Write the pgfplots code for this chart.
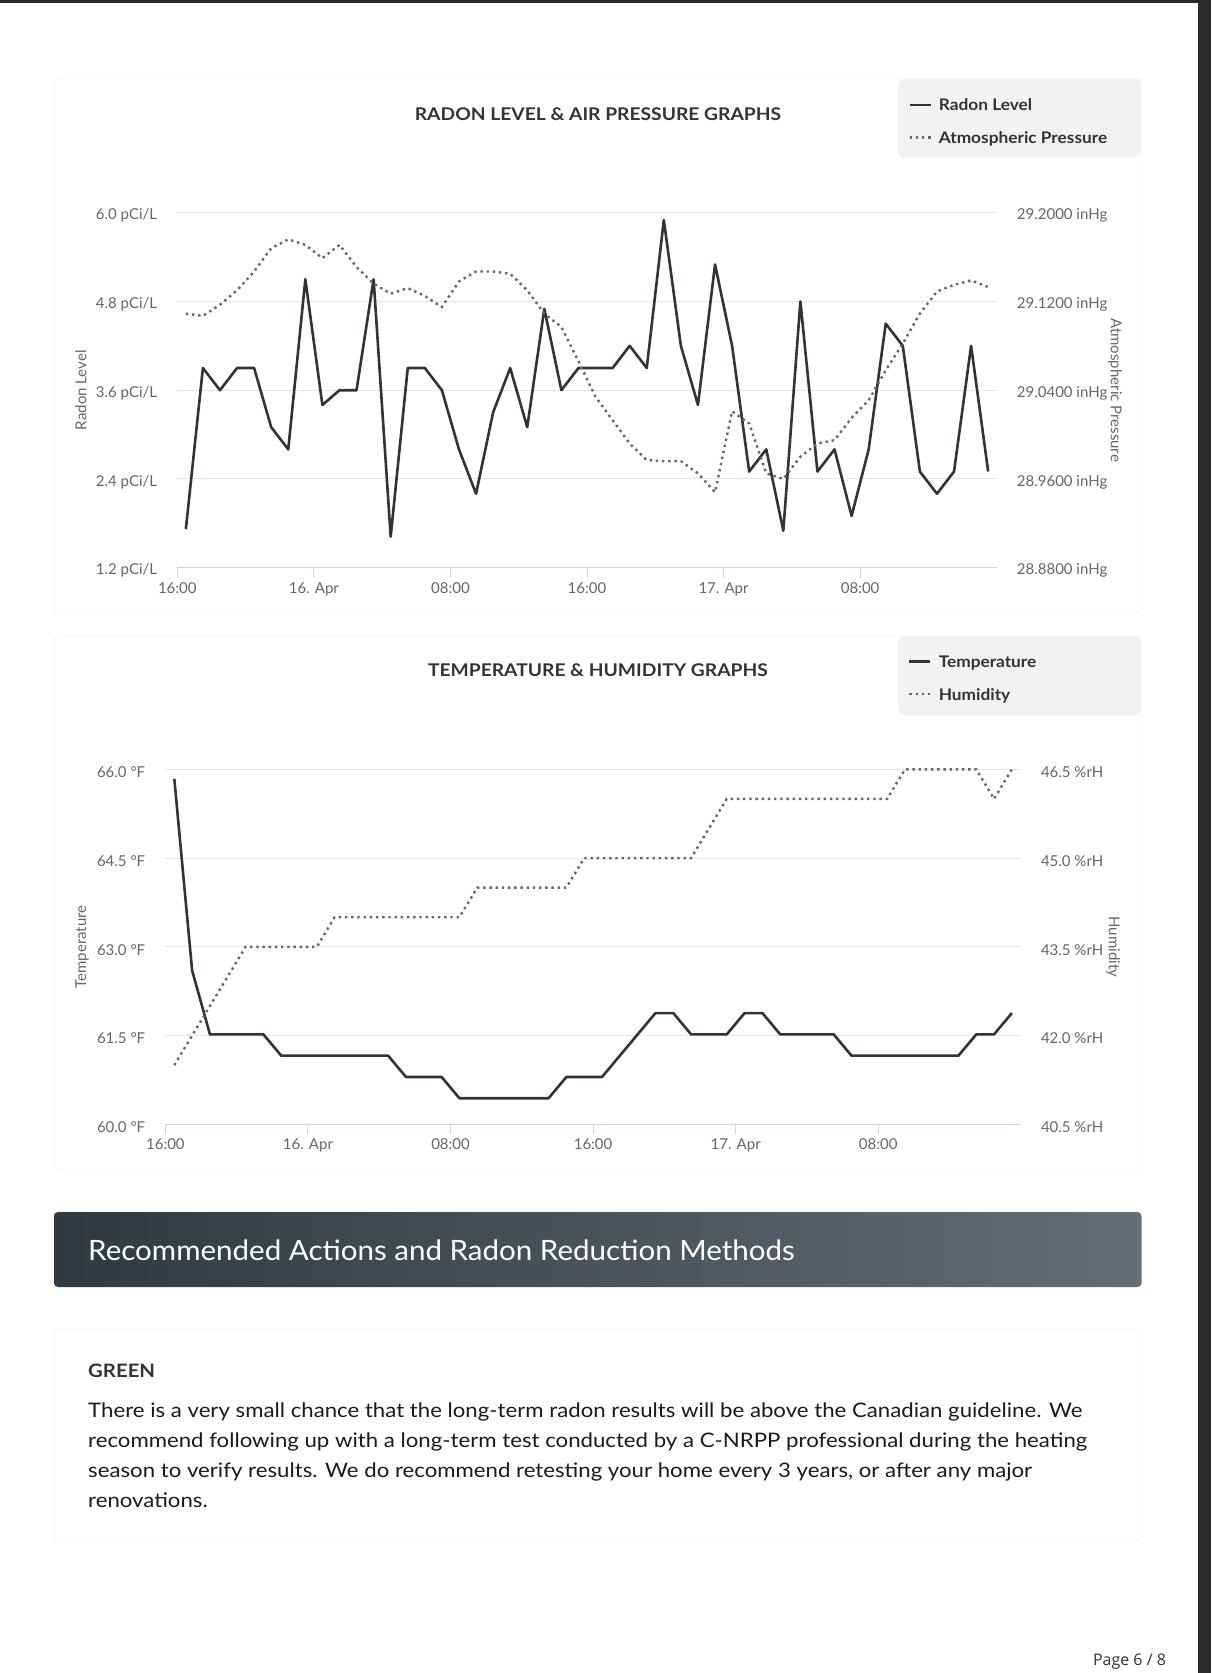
\documentclass[border=0pt]{standalone}
\usepackage{pgfplots}
\usepackage{pgfplotstable}
\pgfplotsset{compat=1.18}
\usepackage{fontspec}
\setmainfont{Lato}
\newfontfamily\wideA{Lato}[FakeStretch=1.1]
\newfontfamily\wideBody{Lato}[FakeStretch=1.11]
\newfontfamily\wideB{Lato}[FakeStretch=1.08]
\newfontfamily\wideC{Lato}[FakeStretch=1.055]
\newfontfamily\pagefont{Open Sans}
\definecolor{dark}{HTML}{2F3438}
\definecolor{dotc}{HTML}{63686C}
\definecolor{gridc}{HTML}{E6E6E6}
\definecolor{axisc}{HTML}{CCD6EB}
\definecolor{labc}{HTML}{666666}
\definecolor{titc}{HTML}{333333}
\definecolor{legbg}{HTML}{F2F2F2}
\definecolor{cardb}{HTML}{ECECEC}
\definecolor{frame}{HTML}{2A2A2A}
\definecolor{banL}{HTML}{2E3942}
\definecolor{banR}{HTML}{646E77}
\definecolor{bodyc}{HTML}{1A1A1A}

\pgfplotstableread{
h radon pres
0.5 1.72 29.109
1.5 3.90 29.107
2.5 3.60 29.117
3.5 3.90 29.130
4.5 3.90 29.147
5.5 3.10 29.168
6.5 2.80 29.176
7.5 5.10 29.171
8.5 3.40 29.159
9.5 3.60 29.171
10.5 3.60 29.151
11.5 5.10 29.136
12.5 1.62 29.127
13.5 3.90 29.132
14.5 3.90 29.125
15.5 3.60 29.115
16.5 2.80 29.138
17.5 2.20 29.147
18.5 3.30 29.147
19.5 3.90 29.145
20.5 3.10 29.130
21.5 4.70 29.109
22.5 3.60 29.097
23.5 3.90 29.066
24.5 3.90 29.034
25.5 3.90 29.013
26.5 4.20 28.992
27.5 3.90 28.977
28.5 5.90 28.976
29.5 4.20 28.976
30.5 3.40 28.965
31.5 5.30 28.948
32.5 4.20 29.021
33.5 2.50 29.010
34.5 2.80 28.965
35.5 1.70 28.960
36.5 4.80 28.980
37.5 2.50 28.992
38.5 2.80 28.995
39.5 1.90 29.015
40.5 2.80 29.031
41.5 4.50 29.058
42.5 4.20 29.082
43.5 2.50 29.109
44.5 2.20 29.129
45.5 2.50 29.135
46.5 4.20 29.139
47.5 2.50 29.133
}\radontab

\pgfplotstableread{
h temp hum
0.5 65.84 41.5
1.5 62.60 42.0
2.5 61.52 42.5
3.5 61.52 43.0
4.5 61.52 43.5
5.5 61.52 43.5
6.5 61.16 43.5
7.5 61.16 43.5
8.5 61.16 43.5
9.5 61.16 44.0
10.5 61.16 44.0
11.5 61.16 44.0
12.5 61.16 44.0
13.5 60.80 44.0
14.5 60.80 44.0
15.5 60.80 44.0
16.5 60.44 44.0
17.5 60.44 44.5
18.5 60.44 44.5
19.5 60.44 44.5
20.5 60.44 44.5
21.5 60.44 44.5
22.5 60.80 44.5
23.5 60.80 45.0
24.5 60.80 45.0
25.5 61.16 45.0
26.5 61.52 45.0
27.5 61.88 45.0
28.5 61.88 45.0
29.5 61.52 45.0
30.5 61.52 45.5
31.5 61.52 46.0
32.5 61.88 46.0
33.5 61.88 46.0
34.5 61.52 46.0
35.5 61.52 46.0
36.5 61.52 46.0
37.5 61.52 46.0
38.5 61.16 46.0
39.5 61.16 46.0
40.5 61.16 46.0
41.5 61.16 46.5
42.5 61.16 46.5
43.5 61.16 46.5
44.5 61.16 46.5
45.5 61.52 46.5
46.5 61.52 46.0
47.5 61.88 46.5
}\temptab

\pgfplotsset{
  chartbase/.style={
    scale only axis, height=355pt, xmin=0, xmax=48, clip=false,
    tick label style={font=\fontsize{15}{18}\selectfont, text=labc},
    ytick style={draw=none},
    yticklabel shift=20pt,
  },
  leftax/.style={
    chartbase,
    axis x line*=bottom, axis y line*=left,
    x axis line style={draw=axisc, line width=1pt, -},
    y axis line style={draw=none},
    xtick={0,8,16,24,32,40},
    xticklabels={16:00,16. Apr,08:00,16:00,17. Apr,08:00},
    xtick style={draw=axisc, line width=1pt},
    xtick align=outside, ytick align=inside,
    major tick length=10pt,
    xticklabel style={anchor=north, inner sep=0pt, yshift=-4.5pt},
    yticklabel style={anchor=east, inner sep=0pt, yshift=-3pt},
    ymajorgrids, grid style={draw=gridc, line width=1pt},
    ylabel style={font=\fontsize{15}{18}\selectfont, text=labc, anchor=center},
    legend cell align=left,
    legend image code/.code={\draw[##1] (0pt,0pt) -- (21pt,0pt);},
    legend style={anchor=north west, draw=none, fill=none, inner sep=0pt,
      font=\wideB\bfseries\fontsize{16}{19}\selectfont, text=titc, row sep=16.9pt,
      nodes={inner sep=0pt, text height=13.6pt, text depth=2pt},
      /tikz/every odd column/.append style={column sep=7pt}},
  },
  rightax/.style={
    chartbase,
    axis x line=none, axis y line*=right,
    y axis line style={draw=none},
    yticklabel style={anchor=west, inner sep=0pt, yshift=-3pt},
    ylabel style={font=\fontsize{15}{18}\selectfont, text=labc, anchor=center, rotate=180},
  },
  solidline/.style={draw=dark, line width=2.6pt, line join=round},
  dotline/.style={draw=dotc, line width=2.4pt, dash pattern=on 2.4pt off 3.8pt},
}

\begin{document}
\begin{tikzpicture}
\useasboundingbox (0,0) rectangle (1211pt,-1673pt);
\fill[white] (0,0) rectangle (1211pt,-1673pt);
\fill[frame] (0,0) rectangle (1211pt,-3pt);
\fill[frame] (1198pt,0) rectangle (1211pt,-1673pt);
% cards
\draw[cardb, fill=white, rounded corners=5pt] (54.5pt,-78pt) rectangle (1141.5pt,-613pt);
\draw[cardb, fill=white, rounded corners=5pt] (54.5pt,-636pt) rectangle (1141.5pt,-1170pt);
\draw[cardb, fill=white, rounded corners=5pt] (54.5pt,-1329pt) rectangle (1141.5pt,-1541pt);
% legend boxes
\fill[legbg, rounded corners=6pt] (898pt,-79pt) rectangle (1141pt,-157pt);
\fill[legbg, rounded corners=6pt] (898pt,-636pt) rectangle (1141pt,-715pt);

% ---------- chart 1 ----------
\begin{axis}[leftax, width=819.4pt, at={(177.3pt,-567.7pt)}, anchor=south west,
  ymin=1.2, ymax=6.0,
  ytick={1.2,2.4,3.6,4.8,6.0},
  yticklabels={1.2 pCi/L,2.4 pCi/L,3.6 pCi/L,4.8 pCi/L,6.0 pCi/L},
  ylabel={Radon Level},
  ylabel style={at={(axis description cs:-0.1175,0.5)}},
  legend style={at={(axis description cs:0.8918,1.3262)}},
]
\addplot[solidline] table[x=h,y=radon]{\radontab};
\addlegendentry{Radon Level}
\addlegendimage{dotline}
\addlegendentry{Atmospheric Pressure}
\end{axis}
\begin{axis}[rightax, width=819.4pt, at={(177.3pt,-567.7pt)}, anchor=south west,
  ymin=28.88, ymax=29.20,
  ytick={28.88,28.96,29.04,29.12,29.20},
  yticklabels={28.8800 inHg,28.9600 inHg,29.0400 inHg,29.1200 inHg,29.2000 inHg},
  ylabel={Atmospheric Pressure},
  ylabel style={at={(axis description cs:1.1444,0.5)}},
]
\addplot[dotline] table[x=h,y=pres]{\radontab};
\end{axis}

% ---------- chart 2 ----------
\begin{axis}[leftax, width=855.4pt, at={(165.4pt,-1124.3pt)}, anchor=south west,
  ymin=60, ymax=66,
  ytick={60,61.5,63,64.5,66},
  yticklabels={60.0 °F,61.5 °F,63.0 °F,64.5 °F,66.0 °F},
  ylabel={Temperature},
  ylabel style={at={(axis description cs:-0.0975,0.5)}},
  legend style={at={(axis description cs:0.8681,1.3256)}},
]
\addplot[solidline] table[x=h,y=temp]{\temptab};
\addlegendentry{Temperature}
\addlegendimage{dotline}
\addlegendentry{Humidity}
\end{axis}
\begin{axis}[rightax, width=855.4pt, at={(165.4pt,-1124.3pt)}, anchor=south west,
  ymin=40.5, ymax=46.5,
  ytick={40.5,42,43.5,45,46.5},
  yticklabels={40.5 \%rH,42.0 \%rH,43.5 \%rH,45.0 \%rH,46.5 \%rH},
  ylabel={Humidity},
  ylabel style={at={(axis description cs:1.1078,0.5)}},
]
\addplot[dotline] table[x=h,y=hum]{\temptab};
\end{axis}

% titles
\node[font=\wideA\bfseries\fontsize{17.5}{21}\selectfont, text=titc] at (598pt,-114pt) {RADON LEVEL \& AIR PRESSURE GRAPHS};
\node[font=\wideA\bfseries\fontsize{17.5}{21}\selectfont, text=titc] at (598pt,-670pt) {TEMPERATURE \& HUMIDITY GRAPHS};

% banner
\shade[left color=banL, right color=banR, rounded corners=4pt] (54pt,-1212pt) rectangle (1141.5pt,-1287pt);
\node[anchor=base west, inner sep=0pt, text=white, font=\wideC\fontsize{28}{32}\selectfont] at (88pt,-1260pt) {Recommended Actions and Radon Reduction Methods};

% text card
\node[anchor=base west, inner sep=0pt, text=titc, font=\wideA\bfseries\fontsize{18.5}{22}\selectfont] at (88pt,-1377.7pt) {GREEN};
\begin{scope}[every node/.style={anchor=base west, inner sep=0pt, text=bodyc, font=\wideBody\fontsize{20}{30}\selectfont}]
\node at (88pt,-1417.5pt) {There is a very small chance that the long-term radon results will be above the Canadian guideline. We};
\node at (88pt,-1447.5pt) {recommend following up with a long-term test conducted by a C-NRPP professional during the heating};
\node at (88pt,-1477.5pt) {season to verify results. We do recommend retesting your home every 3 years, or after any major};
\node at (88pt,-1507.5pt) {renovations.};
\end{scope}

% page number
\node[text=titc, font=\pagefont\fontsize{16}{19}\selectfont, inner sep=0pt] at (1129.5pt,-1662pt) {Page 6 / 8};
\end{tikzpicture}
\end{document}
